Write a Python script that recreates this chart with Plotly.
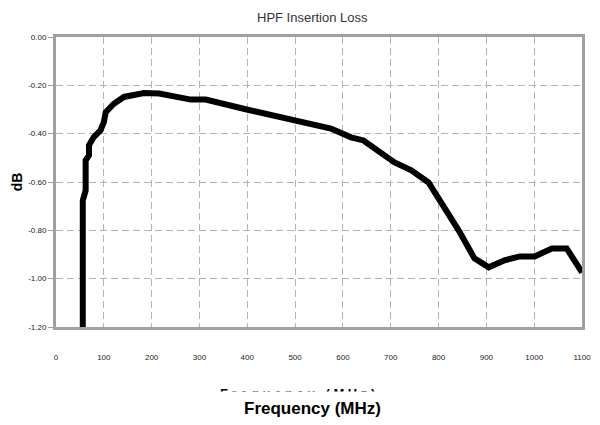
import plotly.graph_objects as go

freq_mhz = [56, 56, 62, 62, 69, 69, 79, 93, 100, 104, 121, 142, 184, 216, 282, 313,
            401, 492, 540, 575, 617, 643, 708, 743, 779, 806, 842, 875, 905, 938,
            970, 1001, 1037, 1068, 1100]
loss_db = [-1.2, -0.676, -0.635, -0.51, -0.49, -0.448, -0.414, -0.386, -0.352, -0.311,
           -0.276, -0.248, -0.232, -0.234, -0.259, -0.259, -0.301, -0.342, -0.366,
           -0.379, -0.415, -0.428, -0.519, -0.552, -0.602, -0.684, -0.800, -0.916,
           -0.953, -0.924, -0.908, -0.908, -0.875, -0.875, -0.974]

x_ticks = list(range(0, 1101, 100))
y_ticks = [0.0, -0.2, -0.4, -0.6, -0.8, -1.0, -1.2]
y_tick_text = ["0.00", "-0.20", "-0.40", "-0.60", "-0.80", "-1.00", "-1.20"]

# page body has an 8px margin: work in page pixels, convert to figure pixels
OFF = 8
FW, FH = 600 - OFF, 425 - OFF
L, R, T, B = 56 - OFF, 582 - OFF, 37 - OFF, 327 - OFF
W, H = R - L, B - T


def px(xp):
    return (xp - OFF - L) / W


def py(yp):
    return (B - (yp - OFF)) / H


fig = go.Figure()
fig.add_trace(go.Scatter(x=freq_mhz, y=loss_db, mode="lines",
                         line=dict(color="black", width=6), showlegend=False))

grid = dict(showgrid=True, gridcolor="#b4b4b4", gridwidth=1, griddash="7px,4px",
            showline=True, linecolor="#a0a0a0", linewidth=3, mirror=True, zeroline=False,
            automargin=False)

fig.update_layout(
    width=FW, height=FH,
    margin=dict(l=L, r=FW - R, t=T, b=FH - B),
    paper_bgcolor="white", plot_bgcolor="white",
    font=dict(family="Liberation Sans Narrow, Arial, sans-serif", size=8, color="#222"),
    xaxis=dict(range=[0, 1100], tickvals=x_ticks, ticks="", ticklabelstandoff=20, **grid),
    yaxis=dict(range=[-1.2, 0], tickvals=y_ticks, ticktext=y_tick_text, ticks="outside",
               ticklen=5, tickcolor="#a0a0a0",
               title=dict(text="<b>dB</b>", font=dict(size=14, family="Arial, sans-serif", color="black"),
                          standoff=3), **grid),
)

fig.add_annotation(text="HPF Insertion Loss", xref="paper", yref="paper",
                   x=px(312), y=py(17), xanchor="center", yanchor="middle", showarrow=False,
                   font=dict(size=13, color="#333", family="Arial, sans-serif"))

# faint clipped duplicate axis title, then the real one
fig.add_annotation(text="<b>F r e q u e n c y   ( M H z )</b>", xref="paper", yref="paper",
                   x=px(297), y=py(393), xanchor="center", yanchor="middle",
                   showarrow=False, font=dict(size=13, color="black", family="Arial, sans-serif"))
fig.add_annotation(text=" ", xref="paper", yref="paper",
                   x=px(297), y=py(391), xanchor="center", yanchor="top",
                   showarrow=False, bgcolor="white", width=200, height=9, borderpad=0)
fig.add_annotation(text="<b>Frequency (MHz)</b>", xref="paper", yref="paper",
                   x=px(312), y=py(408), xanchor="center", yanchor="middle",
                   showarrow=False, font=dict(size=17, color="black", family="Arial, sans-serif"))

fig.write_html("out.html")
